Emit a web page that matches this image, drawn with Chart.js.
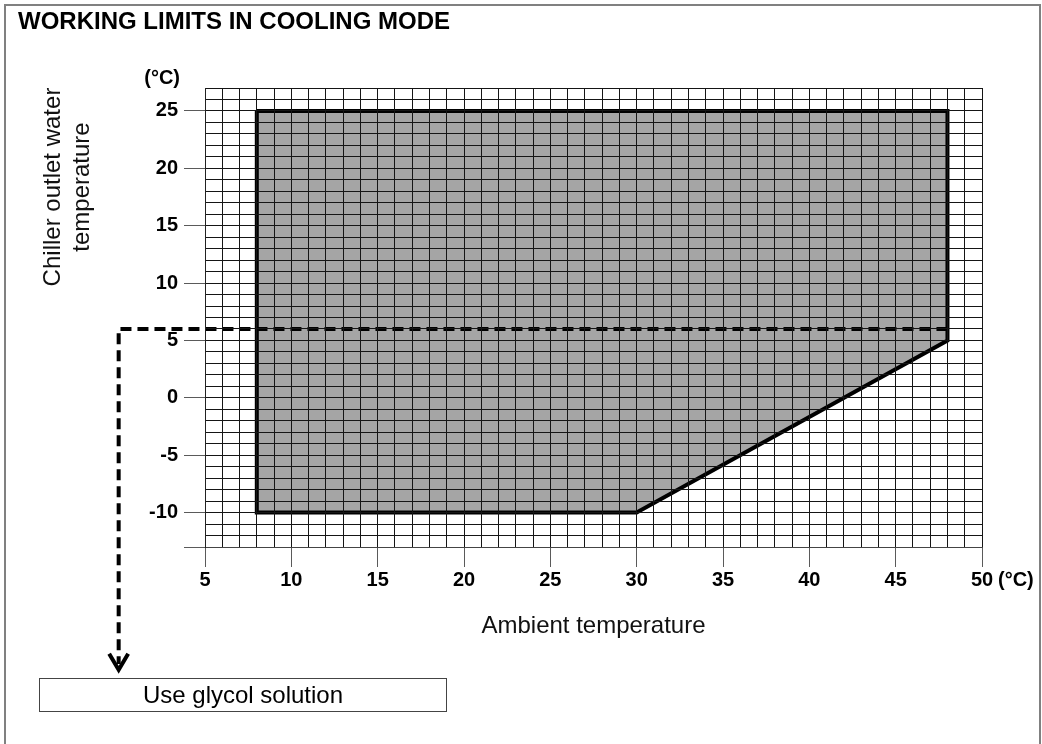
<!DOCTYPE html>
<html>
<head>
<meta charset="utf-8">
<title>Working limits in cooling mode</title>
<script src="https://cdn.jsdelivr.net/npm/chart.js@4.4.1/dist/chart.umd.min.js"></script>
<style>
  html, body { margin: 0; padding: 0; background: #fff; }
  body { font-family: "Liberation Sans", Arial, sans-serif; color: #000; }
  #page { position: relative; width: 1042px; height: 744px; overflow: hidden; }
  #frame {
    position: absolute; left: 4px; top: 4px; width: 1037px; height: 800px;
    border: 2px solid #808080; box-sizing: border-box;
  }
  #heading {
    position: absolute; left: 18px; top: 9px;
    font-weight: bold; font-size: 24px; line-height: 24px; white-space: nowrap;
  }
  #note {
    position: absolute; left: 39px; top: 678px; width: 408px; height: 34px;
    border: 1px solid #444; box-sizing: border-box;
    font-size: 24px; line-height: 32px; text-align: center;
  }
  #wrap { position: absolute; left: 0; top: 0; width: 1042px; height: 744px; }
</style>
</head>
<body>
<div id="page">
  <div id="frame"></div>
  <div id="wrap"><canvas id="limits"></canvas></div>
  <div id="heading">WORKING LIMITS IN COOLING MODE</div>
  <div id="note">Use glycol solution</div>
</div>
<script>
"use strict";

const FONT = '"Liberation Sans", Arial, sans-serif';

// operating envelope (ambient °C, outlet water °C)
const limitAmbient = [8, 48, 48, 30, 8, 8];
const limitWater   = [25, 25, 5, -10, -10, 25];

// dashed "use glycol" marker and its arrow head
const glycolAmbient = [48, 0, 0];
const glycolWater   = [6, 6, -23.2];
const arrowAmbient  = [0.55, 0, -0.55];
const arrowWater    = [-22.3, -23.7, -22.3];

// axis ranges and labelled ticks
const X_RANGE = [5, 50];
const Y_RANGE = [-13, 27];
const xLabelled = [5, 10, 15, 20, 25, 30, 35, 40, 45, 50];
const yLabelled = [-10, -5, 0, 5, 10, 15, 20, 25];

const toPoints = (xs, ys) => xs.map((x, i) => ({ x, y: ys[i] }));

/* ─── extra texts: units and the two-line y title ─────────────────────────── */
const extraText = {
  id: "extraText",
  afterDraw(chart) {
    const { ctx, scales: { x, y } } = chart;
    ctx.save();
    ctx.fillStyle = "#000";
    ctx.textBaseline = "middle";

    ctx.font = "bold 20px " + FONT;
    ctx.textAlign = "left";
    ctx.fillText("(°C)", x.getPixelForValue(X_RANGE[1]) + 16, x.top + 33);
    ctx.textAlign = "right";
    ctx.fillText("(°C)", y.right - 25, chart.chartArea.top - 10);

    ctx.font = "24px " + FONT;
    ctx.fillStyle = "#111";
    ctx.textAlign = "center";
    ctx.translate(53, 187);
    ctx.rotate(-Math.PI / 2);
    ctx.fillText("Chiller outlet water", 0, 0);
    ctx.fillText("temperature", 0, 29);
    ctx.restore();
  },
};

const tickMark = (labelled, extra) => c =>
  labelled.includes(c.tick.value) || c.tick.value === extra ? "#5a5a5a" : "rgba(0,0,0,0)";

new Chart(document.getElementById("limits").getContext("2d"), {
  type: "scatter",
  data: {
    datasets: [
      {
        label: "Working range",
        data: toPoints(limitAmbient, limitWater),
        order: 3,
        showLine: true,
        fill: "shape",
        backgroundColor: "#a5a5a5",
        borderColor: "#000",
        borderWidth: 4,
        borderJoinStyle: "miter",
        pointRadius: 0,
        tension: 0,
      },
      {
        label: "Glycol limit",
        data: toPoints(glycolAmbient, glycolWater),
        order: 1,
        showLine: true,
        fill: false,
        borderColor: "#000",
        borderWidth: 4,
        borderDash: [11, 6],
        pointRadius: 0,
        clip: false,
      },
      {
        label: "Arrow",
        data: toPoints(arrowAmbient, arrowWater),
        order: 1,
        showLine: true,
        fill: false,
        borderColor: "#000",
        borderWidth: 4,
        borderJoinStyle: "miter",
        pointRadius: 0,
        clip: false,
      },
    ],
  },
  options: {
    responsive: true,
    maintainAspectRatio: false,
    animation: false,
    layout: { padding: { left: 0, top: 88, right: 60, bottom: 0 } },
    plugins: { legend: { display: false }, tooltip: { enabled: false } },
    scales: {
      x: {
        type: "linear",
        min: X_RANGE[0], max: X_RANGE[1],
        afterFit: s => { s.height = 197; },
        border: { color: "#444", width: 1, z: 2 },
        grid: { z: 1, color: "#151515", lineWidth: 1, tickLength: 20, tickColor: tickMark(xLabelled) },
        ticks: {
          stepSize: 1, autoSkip: false, maxRotation: 0, padding: 1,
          color: "#000", font: { family: FONT, size: 20, weight: "bold" },
          callback: v => (xLabelled.includes(v) ? String(v) : ""),
        },
        title: {
          display: true, text: "Ambient temperature", color: "#111",
          font: { family: FONT, size: 24 }, padding: { top: 0, bottom: 103 },
        },
      },
      y: {
        type: "linear",
        min: Y_RANGE[0], max: Y_RANGE[1],
        afterFit: s => { s.width = 205; },
        border: { color: "#222", width: 1, z: 2 },
        grid: { z: 1, color: "#151515", lineWidth: 1, tickLength: 21, tickColor: tickMark(yLabelled, Y_RANGE[0]) },
        ticks: {
          stepSize: 1, autoSkip: false, padding: 6,
          color: "#000", font: { family: FONT, size: 20, weight: "bold" },
          callback: v => (yLabelled.includes(v) ? String(v) : ""),
        },
      },
    },
  },
  plugins: [extraText],
});
</script>
</body>
</html>
